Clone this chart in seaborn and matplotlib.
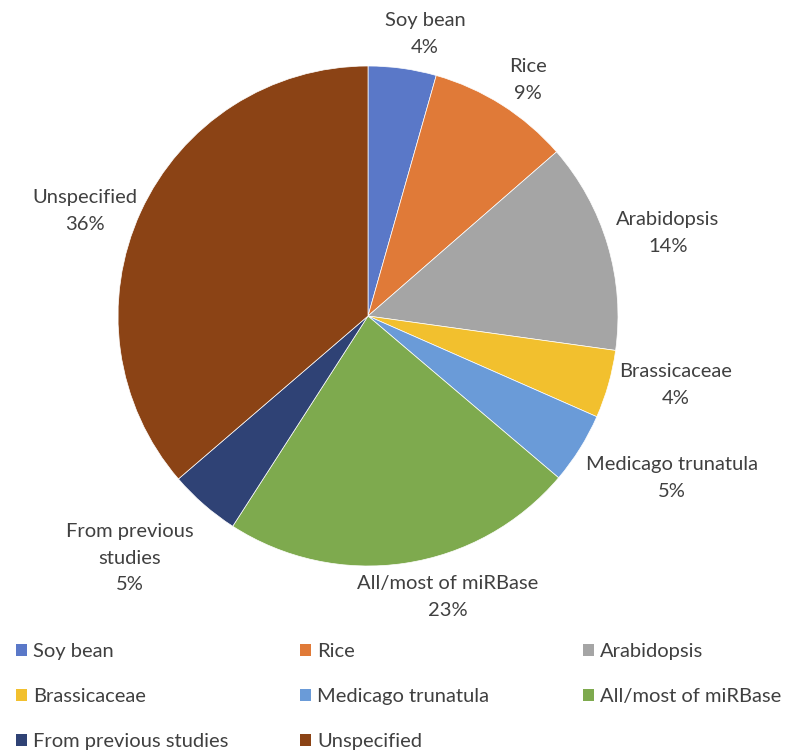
import matplotlib
matplotlib.use("Agg")
import matplotlib.pyplot as plt
import seaborn as sns
from matplotlib.patches import Patch

sns.set_theme(style="white")
plt.rcParams['font.family'] = ['Lato', 'DejaVu Sans']

categories = ["Soy bean", "Rice", "Arabidopsis", "Brassicaceae", "Medicago trunatula",
              "All/most of miRBase", "From previous studies", "Unspecified"]
values = [4.4, 9.2, 13.6, 4.4, 4.6, 22.9, 4.6, 36.3]
pct_labels = ["4%", "9%", "14%", "4%", "5%", "23%", "5%", "36%"]
slice_labels = ["Soy bean", "Rice", "Arabidopsis", "Brassicaceae", "Medicago trunatula",
                "All/most of miRBase", "From previous\nstudies", "Unspecified"]
colors = sns.color_palette(["#5A78C8", "#E07A38", "#A5A5A5", "#F2C02E", "#6A9BD8",
                            "#7EAA4E", "#2F4275", "#8B4315"])

W, H = 785, 751
fig = plt.figure(figsize=(W / 100, H / 100), dpi=100)
cx, cy, R = 368, 316, 250
ax = fig.add_axes([(cx - R) / W, (H - cy - R) / H, 2 * R / W, 2 * R / H])
ax.pie(values, colors=colors, startangle=90, counterclock=False,
       wedgeprops=dict(linewidth=0.5, edgecolor="white"))
ax.set_xlim(-1, 1)
ax.set_ylim(-1, 1)
ax.set_aspect("equal")
ax.axis("off")

# label centre offsets in pixels relative to pie centre (layout only)
label_offsets = [(57, -282), (160, -236), (300, -83), (308, 69), (304, 162),
                 (80, 281), (-238, 242), (-283, -105)]
txt_color = "#404040"
FS = 14.5
for lab, pct, (dx, dy) in zip(slice_labels, pct_labels, label_offsets):
    ax.text(dx / R, -dy / R, f"{lab}\n{pct}", ha="center", va="center",
            fontsize=FS, color=txt_color, linespacing=1.65, clip_on=False)

handles = [Patch(facecolor=c, edgecolor="none") for c in colors]
columns = [[0, 3, 6], [1, 4, 7], [2, 5]]
col_x = [16, 300, 583]
for idxs, x in zip(columns, col_x):
    fig.legend([handles[i] for i in idxs], [categories[i] for i in idxs],
               loc="upper left", bbox_to_anchor=(x / W, 1 - 643 / H),
               frameon=False, fontsize=FS, labelcolor=txt_color,
               handlelength=0.55, handleheight=0.55, handletextpad=0.3,
               labelspacing=1.4, borderpad=0, borderaxespad=0)

fig.savefig("out.png", dpi=100)
